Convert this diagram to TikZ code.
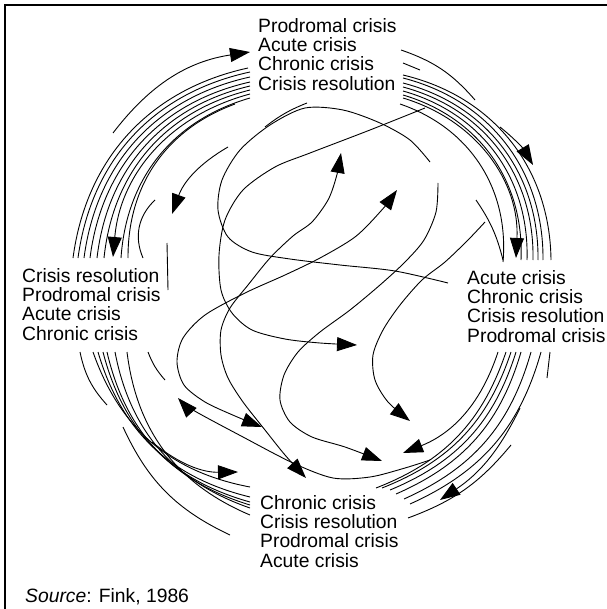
\documentclass[tikz,border=0pt]{standalone}
\usepackage{fontspec}
\setmainfont{Liberation Sans}
\usetikzlibrary{arrows.meta}

\tikzset{
  flow/.style={line width=0.9pt},
  tip/.style={flow, -{Triangle[length=20pt,width=14pt]}},
  both/.style={flow, {Triangle[length=20pt,width=14pt]}-{Triangle[length=20pt,width=14pt]}},
  phase/.style={anchor=north west, align=left, inner sep=0pt, font=\fontsize{19.3}{19.3}\selectfont},
}

\begin{document}
\begin{tikzpicture}[x=1pt, y=-1pt]
    \useasboundingbox (0,0) rectangle (606,609);
    \draw[line width=2.5pt] (5,620) -- (5,5) -- (620,5);

    % Stages
    \node[phase] (top) at (258,18) {Prodromal crisis\\Acute crisis\\Chronic crisis\\Crisis resolution};
    \node[phase] (right) at (467,270) {Acute crisis\\Chronic crisis\\Crisis resolution\\Prodromal crisis};
    \node[phase] (bottom) at (260,495) {Chronic crisis\\Crisis resolution\\Prodromal crisis\\Acute crisis};
    \node[phase] (left) at (22,268) {Crisis resolution\\Prodromal crisis\\Acute crisis\\Chronic crisis};
    \node[phase] (src) at (25,588) {\textit{Source}: Fink, 1986};

    % top left
    \foreach \xa/\ya/\xb/\yb in {248/68/73/258, 250/72/78/258, 250/77/84/258, 250/82/90/258,
        250/86/97/258, 250/90/104/258, 250/98/121/258, 235/104/128/258, 155/200/143/258}
        \draw[flow] (\xa,\ya) to[bend right=35] (\xb,\yb);
    \draw[tip] (250,94) to[bend right=35] (113,257);
    \draw[tip] (113,133) to[bend left=22] (250,52);
    \draw[tip] (228,147) to[bend right=20] (172,214);
    \draw[flow] (167,243) -- (168,290);

    % top right
    \foreach \xa/\ya/\xb/\yb in {403/75/551/260, 403/78/543/260, 403/83/538/260, 403/87/533/260,
        403/91/527/260, 403/95/521/260, 400/104/503/262}
        \draw[flow] (\xa,\ya) to[bend left=38] (\xb,\yb);
    \draw[tip] (403,98) to[bend left=38] (516,258);
    \draw[flow] (401,50) to[bend left=15] (475,100);
    \draw[flow] (403,63) -- (420,70);
    \draw[tip] (500,127) to[bend left=10] (533,165);
    \draw[flow] (476,200) to[bend left=10] (503,260);

    % bottom right
    \foreach \xa/\ya/\xb/\yb in {506/352/376/488, 511/352/382/488, 516/352/390/490,
        521/352/396/494, 531/352/404/499, 541/352/410/504}
        \draw[flow] (\xa,\ya) to[bend left=25] (\xb,\yb);
    \draw[tip] (520,408) to[bend left=15] (440,500);
    \draw[flow] (511,445) to[bend left=15] (408,518);
    \draw[flow] (550,352) -- (547,378);
    \draw[tip] (498,352) to[bend left=25] (403,453);

    % bottom left
    \foreach \xa/\ya/\xb/\yb in {93/352/250/487, 98/352/250/497, 103/352/250/502,
        107/352/250/505, 115/352/250/508, 127/352/250/515}
        \draw[flow] (\xa,\ya) to[bend right=30] (\xb,\yb);
    \draw[flow] (80,352) to[bend right=15] (107,405);
    \draw[flow] (123,427) to[bend right=20] (230,535);
    \draw[flow] (148,352) to[bend right=10] (165,380);
    \draw[tip] (152,442) to[bend right=20] (238,472);

    % middle
    \draw[flow] plot[smooth] coordinates {(430,162) (410,140) (380,123) (343,110) (305,108)
        (270,125) (240,150) (222,180) (218,210) (228,237) (252,252) (290,259) (340,265) (395,271) (448,283)};
    \draw[tip] plot[smooth] coordinates {(425,108) (370,130) (310,153) (275,167) (243,190)
        (225,220) (219,255) (221,290) (232,313) (252,330) (285,339) (320,343) (357,345)};
    \draw[both] plot[smooth] coordinates {(341,153) (336,178) (328,200) (312,222) (293,236)
        (270,258) (248,285) (230,308) (221,330) (221,355) (228,378) (243,402) (265,430) (285,455) (306,478)};
    \draw[both] plot[smooth] coordinates {(397,190) (380,212) (355,237) (320,258) (285,275)
        (245,293) (205,315) (183,338) (177,362) (184,385) (205,402) (235,416) (262,427)};
    \draw[tip] plot[smooth] coordinates {(438,183) (436,212) (424,240) (405,262) (380,285)
        (350,310) (320,332) (298,352) (284,375) (280,400) (290,422) (312,437) (345,447) (382,461)};
    \draw[tip] plot[smooth] coordinates {(485,222) (468,240) (445,262) (422,280) (400,305)
        (383,330) (373,355) (375,380) (388,402) (410,421)};
    \draw[tip] plot[smooth] coordinates {(430,460) (405,468) (370,477) (333,478) (293,463)
        (243,437) (193,410) (178,398)};
    \draw[flow] (265,127) to[bend left=8] (307,103);
\end{tikzpicture}
\end{document}
